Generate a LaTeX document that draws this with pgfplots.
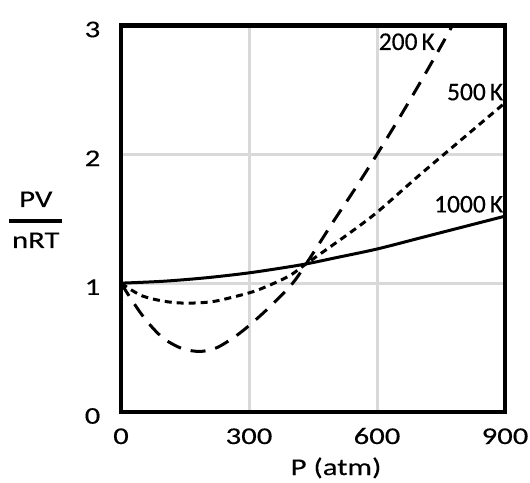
\documentclass[border=0pt]{standalone}
\usepackage{fontspec}
\setmainfont{Carlito}[FakeBold=0.3]
\newfontfamily\wide{Carlito}[FakeStretch=1.28, FakeBold=0.3]
\usepackage{pgfplots}
\pgfplotsset{compat=1.18}
\definecolor{gridgray}{RGB}{217,217,217}

\begin{document}
\begin{tikzpicture}
\begin{axis}[
  scale only axis,
  width=384pt, height=386.5pt,
  xmin=0, xmax=900, ymin=0, ymax=3,
  xtick={0,300,600,900},
  ytick={0,1,2,3},
  grid=major,
  grid style={line width=3pt, color=gridgray},
  major tick length=0pt,
  axis line style={line width=4.8pt, line join=miter},
  /pgf/number format/assume math mode=true,
  tick label style={font=\wide\fontsize{24}{28}\selectfont, inner sep=0pt},
  xticklabel style={anchor=base, yshift=-32pt},
  yticklabel style={anchor=east, xshift=-20.5pt, yshift=-4pt},
  xlabel={P (atm)},
  xlabel style={font=\wide\fontsize{24}{28}\selectfont, inner sep=0pt,
    at={(axis description cs:0.56,0)}, anchor=base, yshift=-63pt},
  clip mode=individual,
]
% 1000 K
\addplot[black, line width=3pt, smooth] coordinates {
  (0,1.0) (100,1.015) (200,1.042) (300,1.08) (400,1.13) (450,1.16)
  (500,1.195) (600,1.265) (700,1.35) (800,1.435) (900,1.52)
};
% 500 K
\addplot[black, line width=3pt, smooth, dash pattern=on 7pt off 5pt] coordinates {
  (0,1.0) (47,0.905) (100,0.86) (150,0.845) (211,0.855) (265,0.894)
  (320,0.946) (391,1.05) (434,1.15) (534,1.385) (600,1.55) (700,1.84)
  (800,2.12) (900,2.40)
};
% 200 K
\addplot[black, line width=3pt, smooth, dash pattern=on 15pt off 10pt] coordinates {
  (0,1.0) (25,0.87) (50,0.75) (75,0.65) (100,0.57) (125,0.52) (150,0.485)
  (187,0.47) (225,0.50) (265,0.58) (300,0.67) (350,0.82) (400,0.99)
  (434,1.15) (500,1.49) (550,1.74) (600,2.0) (650,2.27) (700,2.55)
  (750,2.84) (780,3.02)
};
\node[anchor=base east, inner sep=0pt, font=\fontsize{25.5}{30}\selectfont]
  at (axis cs:736,2.81) {200\hspace{4pt}K};
\node[anchor=base east, inner sep=0pt, font=\fontsize{25.5}{30}\selectfont]
  at (axis cs:896,2.42) {500\hspace{4pt}K};
\node[anchor=base east, inner sep=0pt, font=\fontsize{25.5}{30}\selectfont]
  at (axis cs:896,1.549) {1000\hspace{4pt}K};
\end{axis}
\draw[line width=4.8pt, line join=miter] (0,0) rectangle (384pt,386.5pt);
% y label as a stacked fraction
\node[anchor=center, inner sep=0pt] at (-85.2pt,192.2pt) {\wide\fontsize{24}{28}\selectfont
  \vbox{\offinterlineskip
    \hbox to 52.6pt{\hss PV\hss}\kern 12.4pt
    \hrule height 3.5pt
    \kern 9.7pt\hbox to 52.6pt{\hss nRT\hss}}};
\pgfresetboundingbox
\path[use as bounding box] (-121pt,-70pt) rectangle (409pt,412pt);
\end{tikzpicture}
\end{document}
